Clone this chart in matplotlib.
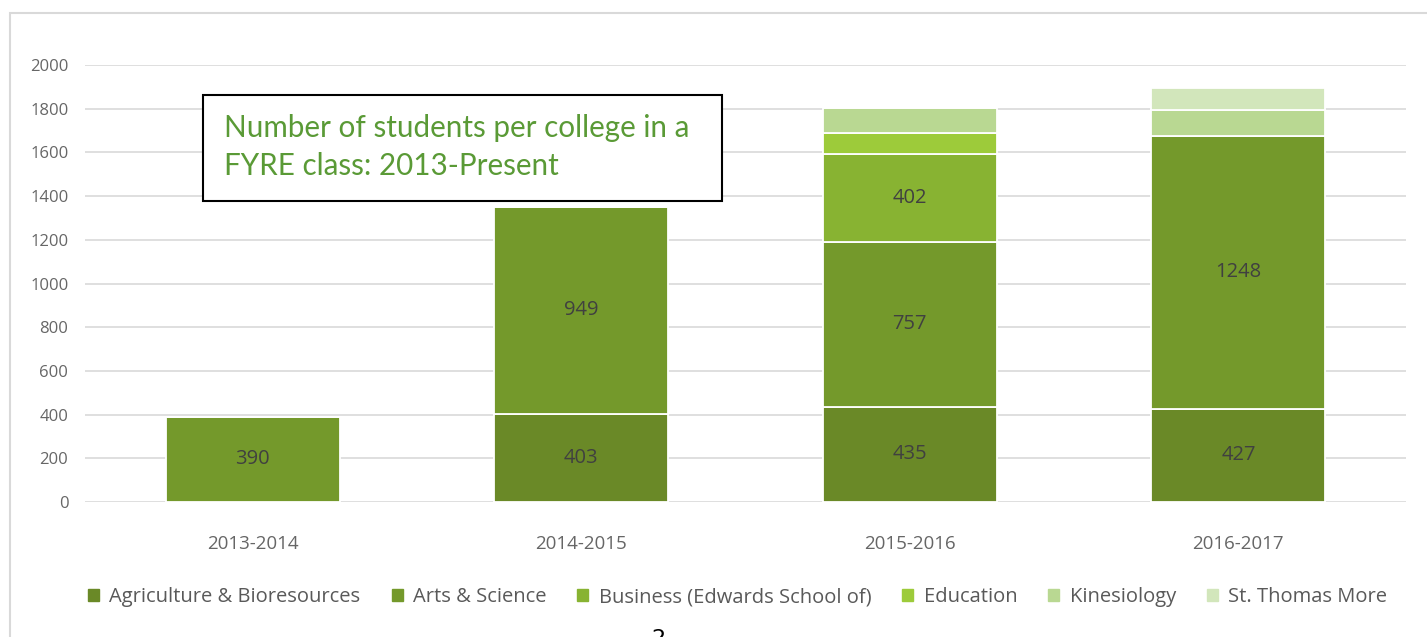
import matplotlib
matplotlib.use("Agg")
import matplotlib.pyplot as plt
import matplotlib.patches as mpatches
import numpy as np

years = ["2013-2014", "2014-2015", "2015-2016", "2016-2017"]
colleges = ["Agriculture & Bioresources", "Arts & Science", "Business (Edwards School of)",
            "Education", "Kinesiology", "St. Thomas More"]
agriculture = [0, 403, 435, 427]
arts_science = [390, 949, 757, 1248]
business = [0, 0, 402, 0]
education = [0, 0, 95, 0]
kinesiology = [0, 0, 115, 120]
st_thomas_more = [0, 0, 0, 100]
label_series = [True, True, True, False, False, False]
colors = ["#6a8927", "#74992b", "#88b332", "#9dcb3a", "#b9d892", "#d2e6bb"]
yticks = [0, 200, 400, 600, 800, 1000, 1200, 1400, 1600, 1800, 2000]
title_lines = ["Number of students per college in a", "FYRE class: 2013-Present"]

W, H = 1427, 637
fig = plt.figure(figsize=(W / 100, H / 100), dpi=100)
fig.patch.set_facecolor("white")

ax = fig.add_axes([85 / W, 1 - 502 / H, (1406 - 85) / W, (502 - 65) / H])
series = [agriculture, arts_science, business, education, kinesiology, st_thomas_more]
x = np.arange(len(years))
bottom = np.zeros(len(years))
for vals, col, name, lab in zip(series, colors, colleges, label_series):
    v = np.array(vals, dtype=float)
    ax.bar(x, v, 0.53, bottom=bottom, color=col, edgecolor="white",
           linewidth=1.3, label=name, zorder=3)
    if lab:
        for xi, b, h in zip(x, bottom, v):
            if h > 0:
                ax.text(xi, b + h / 2, f"{int(h)}", ha="center", va="center",
                        fontsize=14.5, color="#404040", family="Open Sans", zorder=4)
    bottom += v

ax.set_xlim(-0.51, len(years) - 0.49)
ax.set_ylim(0, 2000)
ax.set_yticks(yticks)
ax.set_xticks(x)
ax.set_xticklabels(years, fontsize=13.5, color="#666666", family="Open Sans")
ax.set_yticklabels([str(t) for t in yticks], fontsize=12, color="#666666", family="Open Sans")
ax.grid(axis="y", color="#d9d9d9", linewidth=1.2, zorder=0)
ax.set_axisbelow(True)
for s in ax.spines.values():
    s.set_visible(False)
ax.tick_params(axis="both", length=0)
ax.tick_params(axis="y", pad=12)
ax.tick_params(axis="x", pad=24)

handles = [mpatches.Patch(color=c) for c in colors]
fig.legend(handles, colleges, loc="center left", bbox_to_anchor=(80 / W, 1 - 597 / H),
           ncol=6, frameon=False, prop={"family": "Open Sans", "size": 14.5},
           handlelength=0.55, handleheight=0.55, handletextpad=0.5,
           columnspacing=1.55, labelcolor="#595959", borderaxespad=0)

# outer chart frame
fig.patches.append(mpatches.Rectangle((10 / W, -0.2), 1.2, 1 - 13 / H + 0.2,
                                      transform=fig.transFigure, fill=False,
                                      edgecolor="#d9d9d9", linewidth=1.5, zorder=0))

# title box
fig.patches.append(mpatches.Rectangle((203 / W, 1 - 201 / H), (722 - 203) / W, (201 - 95) / H,
                                      transform=fig.transFigure, facecolor="white",
                                      edgecolor="black", linewidth=1.5, zorder=10))
fig.text(224 / W, 1 - 128 / H, title_lines[0], fontsize=21.3, color="#5a9a36",
         family="Lato", va="center", ha="left", zorder=11)
fig.text(224 / W, 1 - 166 / H, title_lines[1], fontsize=21.3, color="#5a9a36",
         family="Lato", va="center", ha="left", zorder=11)

fig.text(658 / W, 1 - 629 / H, "2", fontsize=16, color="black", va="top", ha="center")

fig.savefig("out.png", dpi=100)
